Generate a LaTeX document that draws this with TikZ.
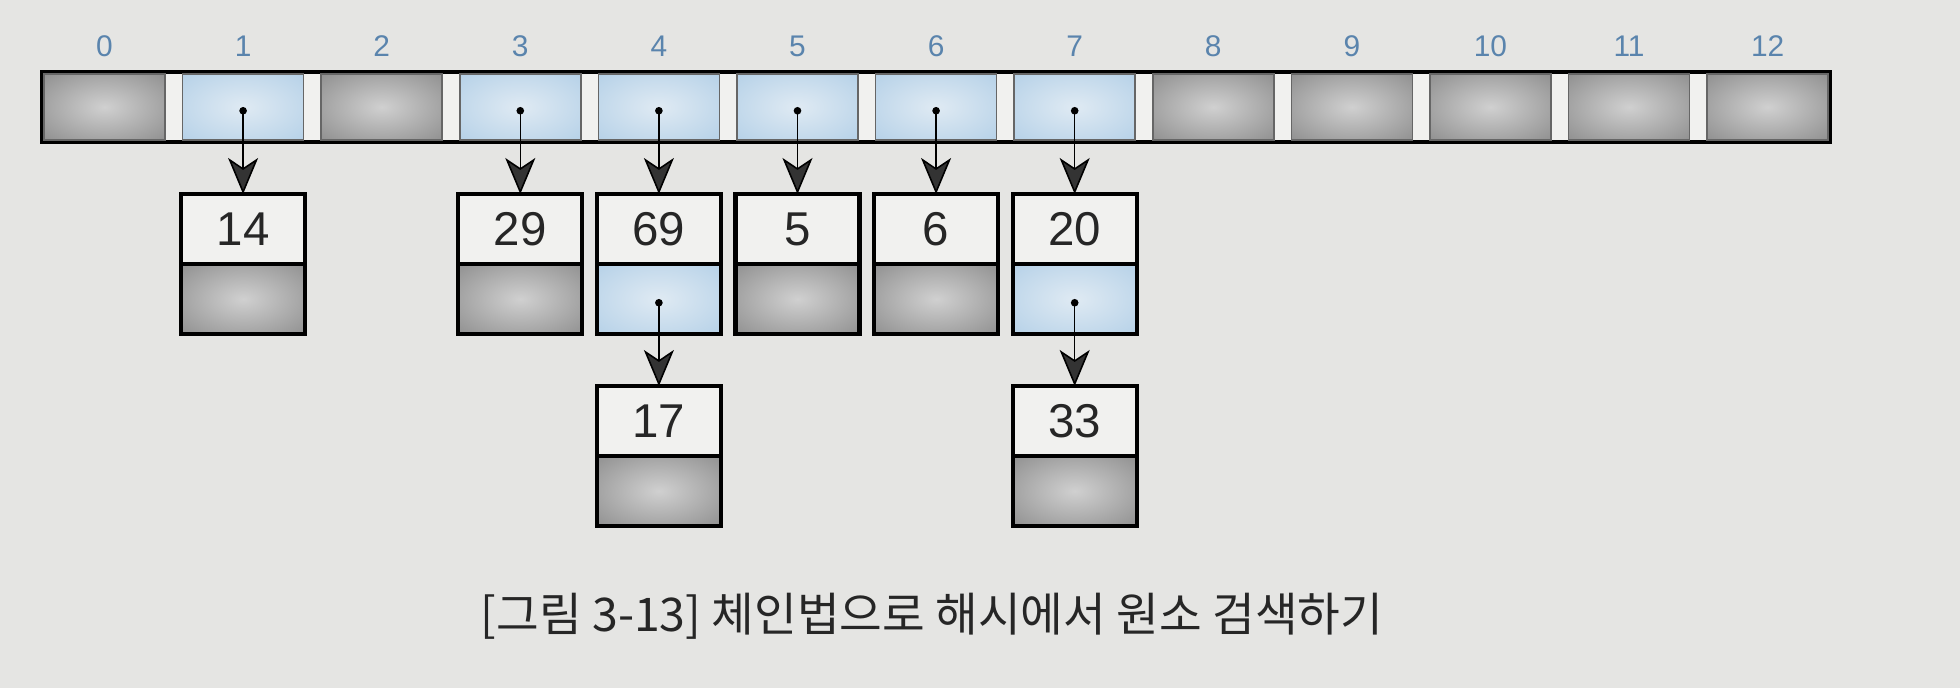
\documentclass[tikz,border=0pt]{standalone}
\usepackage{fontspec}
\setmainfont{Liberation Sans}
\newfontfamily\krfont{Noto Sans CJK KR}
\usetikzlibrary{arrows.meta, positioning}
\definecolor{mpaper}{HTML}{E5E5E3}
\definecolor{mgap}{HTML}{F1F1EF}
\definecolor{mvalue}{HTML}{F1F1EF}
\definecolor{mindex}{HTML}{5A84AD}
\definecolor{mgrayhi}{HTML}{D0D0D0}
\definecolor{mgraylo}{HTML}{767676}
\definecolor{mbluehi}{HTML}{DFEAF3}
\definecolor{mbluelo}{HTML}{A5C7E3}
\definecolor{mtip}{HTML}{333333}
\pgfdeclareradialshading{grayspot}{\pgfpoint{0bp}{0bp}}{color(0bp)=(mgrayhi); color(50bp)=(mgraylo); color(75bp)=(mgraylo)}
\pgfdeclareradialshading{bluespot}{\pgfpoint{0bp}{0bp}}{color(0bp)=(mbluehi); color(50bp)=(mbluelo); color(75bp)=(mbluelo)}
\tikzstyle{array} = [rectangle, draw, line width=1.2pt, fill=mgap, minimum width=178.8mm, minimum height=7mm, inner sep=0, outer sep=0]
\tikzstyle{empty} = [rectangle, draw=black!60, line width=0.5pt, shade, shading=grayspot, minimum width=12.1mm, minimum height=6.6mm, inner sep=0, outer sep=0]
\tikzstyle{used} = [rectangle, draw=black!60, line width=0.5pt, shade, shading=bluespot, minimum width=12.1mm, minimum height=6.6mm, inner sep=0, outer sep=0]
\tikzstyle{index} = [text=mindex, font=\fontsize{8.5}{10}\selectfont, inner sep=0]
\tikzstyle{value} = [rectangle, draw, line width=1.2pt, fill=mvalue, minimum width=12.4mm, minimum height=7mm, font=\fontsize{13.5}{16}\selectfont, text=black!85, inner sep=0, outer sep=0]
\tikzstyle{nil} = [rectangle, draw, line width=1.2pt, shade, shading=grayspot, minimum width=12.4mm, minimum height=7mm, inner sep=0, outer sep=0]
\tikzstyle{next} = [rectangle, draw, line width=1.2pt, shade, shading=bluespot, minimum width=12.4mm, minimum height=7mm, inner sep=0, outer sep=0]
\tikzstyle{caption} = [font=\krfont\fontsize{13.2}{16}\selectfont, text=black!85]
\tikzstyle{link} = [line width=0.45pt, {Circle[length=0.75mm]}-{Stealth[length=3.6mm, width=3mm, inset=1mm, fill=mtip]}]

\begin{document}
\begin{tikzpicture}[x=0.1mm, y=0.1mm, node distance=1.76mm]
  \useasboundingbox (0,0) rectangle (1960,688);
  \fill [mpaper] (0,0) rectangle (1960,688);
  % hash table
  \node (bar) [array] at (936,581) {};
  \node (c0) [empty] at (104.5,581) {};
  \node (c1) [used, right = of c0] {};
  \node (c2) [empty, right = of c1] {};
  \node (c3) [used, right = of c2] {};
  \node (c4) [used, right = of c3] {};
  \node (c5) [used, right = of c4] {};
  \node (c6) [used, right = of c5] {};
  \node (c7) [used, right = of c6] {};
  \node (c8) [empty, right = of c7] {};
  \node (c9) [empty, right = of c8] {};
  \node (c10) [empty, right = of c9] {};
  \node (c11) [empty, right = of c10] {};
  \node (c12) [empty, right = of c11] {};
  \node (i0) [index, above = 1.7mm of c0] {0};
  \node (i1) [index, above = 1.7mm of c1] {1};
  \node (i2) [index, above = 1.7mm of c2] {2};
  \node (i3) [index, above = 1.7mm of c3] {3};
  \node (i4) [index, above = 1.7mm of c4] {4};
  \node (i5) [index, above = 1.7mm of c5] {5};
  \node (i6) [index, above = 1.7mm of c6] {6};
  \node (i7) [index, above = 1.7mm of c7] {7};
  \node (i8) [index, above = 1.7mm of c8] {8};
  \node (i9) [index, above = 1.7mm of c9] {9};
  \node (i10) [index, above = 1.7mm of c10] {10};
  \node (i11) [index, above = 1.7mm of c11] {11};
  \node (i12) [index, above = 1.7mm of c12] {12};
  % chains
  \node (v14) [value, below = 5.4mm of c1] {14};
  \node (p14) [nil, below = 0mm of v14] {};
  \draw [link] (c1.center) -- (v14.north);
  \node (v29) [value, below = 5.4mm of c3] {29};
  \node (p29) [nil, below = 0mm of v29] {};
  \draw [link] (c3.center) -- (v29.north);
  \node (v69) [value, below = 5.4mm of c4] {69};
  \node (p69) [next, below = 0mm of v69] {};
  \draw [link] (c4.center) -- (v69.north);
  \node (v17) [value, below = 5.2mm of p69] {17};
  \node (p17) [nil, below = 0mm of v17] {};
  \draw [link] (p69.center) -- (v17.north);
  \node (v5) [value, below = 5.4mm of c5] {5};
  \node (p5) [nil, below = 0mm of v5] {};
  \draw [link] (c5.center) -- (v5.north);
  \node (v6) [value, below = 5.4mm of c6] {6};
  \node (p6) [nil, below = 0mm of v6] {};
  \draw [link] (c6.center) -- (v6.north);
  \node (v20) [value, below = 5.4mm of c7] {20};
  \node (p20) [next, below = 0mm of v20] {};
  \draw [link] (c7.center) -- (v20.north);
  \node (v33) [value, below = 5.2mm of p20] {33};
  \node (p33) [nil, below = 0mm of v33] {};
  \draw [link] (p20.center) -- (v33.north);
  \node (cap) [caption] at (932,72) {[그림 3-13] 체인법으로 해시에서 원소 검색하기};
\end{tikzpicture}
\end{document}
